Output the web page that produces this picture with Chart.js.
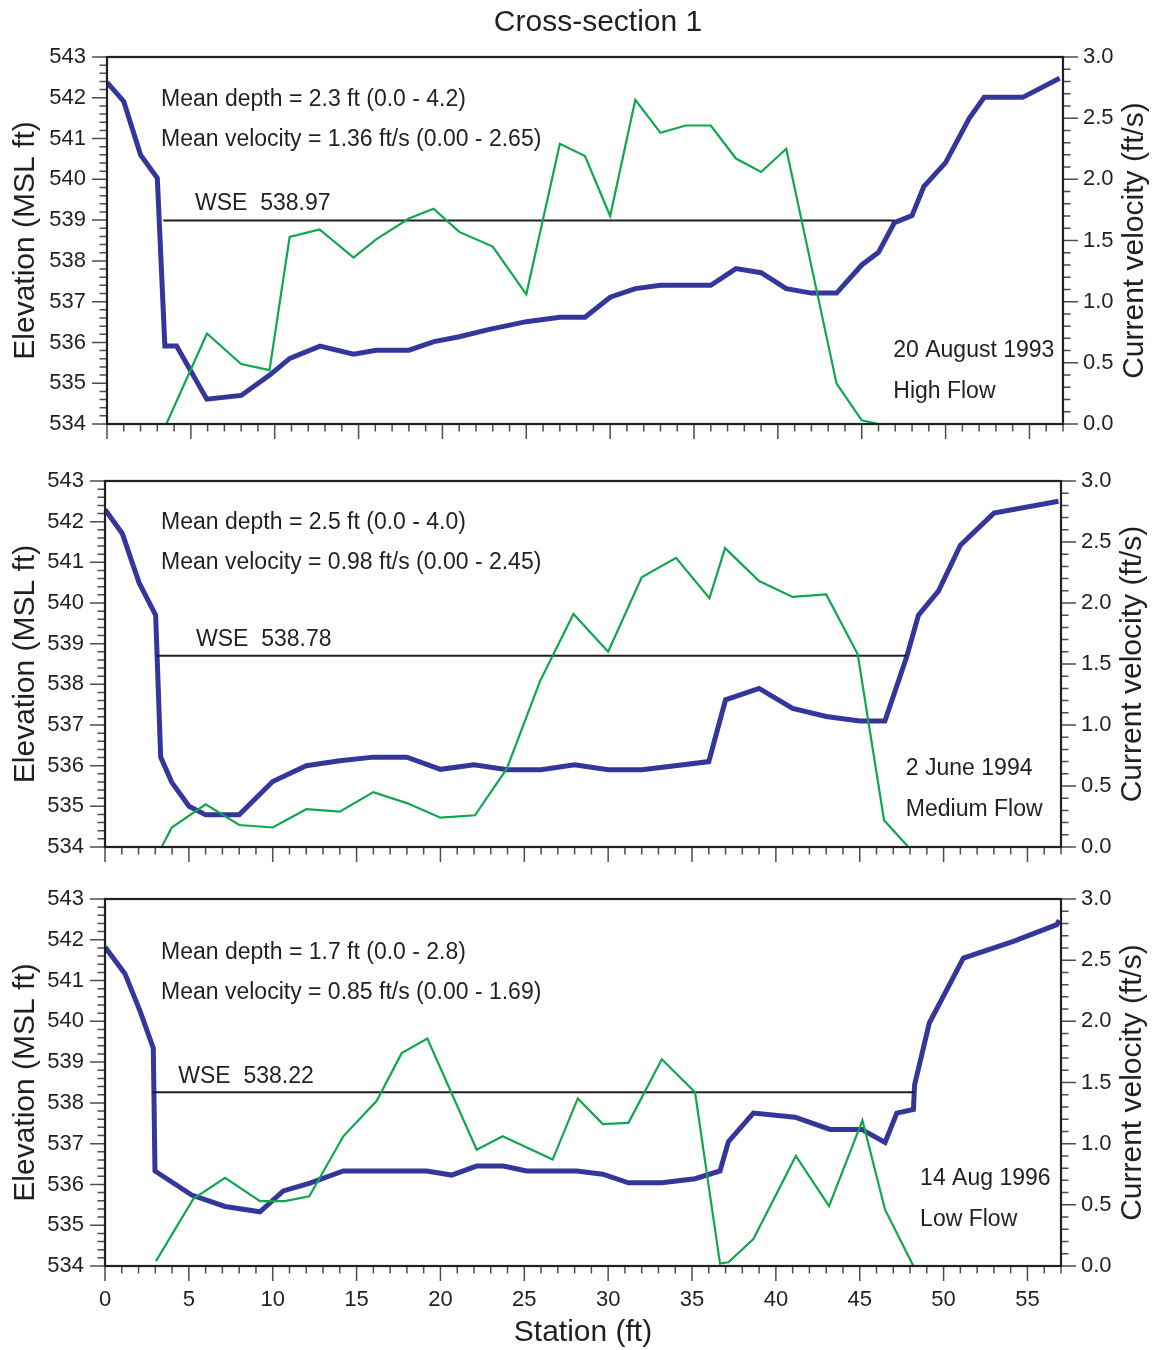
<!DOCTYPE html>
<html>
<head>
<meta charset="utf-8">
<script src="https://cdn.jsdelivr.net/npm/chart.js@4.4.1/dist/chart.umd.min.js"></script>
<style>
body { margin: 0; background: #fff; }
#wrap { position: relative; width: 1156px; height: 1350px; }
canvas { position: absolute; left: 0; }
</style>
</head>
<body>
<div id="wrap">
  <canvas id="c1" width="1156" height="445" style="top:0px"></canvas>
  <canvas id="c2" width="1156" height="423" style="top:445px"></canvas>
  <canvas id="c3" width="1156" height="482" style="top:868px"></canvas>
</div>
<script>
const FONT = '"Liberation Sans", Arial, Helvetica, sans-serif';
const INK = '#231f20';
const BLUE = '#34379a';
const GREEN = '#10a64f';

// tick labels
const stationTicks = [0, 5, 10, 15, 20, 25, 30, 35, 40, 45, 50, 55];
const elevTicks = [534, 535, 536, 537, 538, 539, 540, 541, 542, 543];
const velTicks = [0, 0.5, 1, 1.5, 2, 2.5, 3];

// panel 1 - 20 August 1993, high flow
const station1 = [0, 1, 2, 3, 3.45, 4.15, 5.95, 8, 9.7, 10.9, 12.7, 14.7, 16.05, 18, 19.5, 21, 22.8, 25, 27, 28.5,
  30, 31.5, 33, 36, 37.5, 39, 40.5, 42, 43.5, 45, 46, 46.95, 48, 48.7, 50, 51.4, 52.3, 54.6, 56.8];
const elev1 = [542.38, 541.91, 540.6, 540.03, 535.91, 535.91, 534.61, 534.7, 535.2, 535.61, 535.91, 535.71, 535.81, 535.81, 536.02, 536.14, 536.32, 536.51, 536.62, 536.62,
  537.11, 537.32, 537.4, 537.4, 537.81, 537.71, 537.32, 537.21, 537.21, 537.9, 538.21, 538.94, 539.11, 539.82, 540.41, 541.49, 542.01, 542.01, 542.48];
const velStation1 = [3.54, 5.96, 8, 9.69, 10.89, 12.67, 14.7, 16.05, 18, 19.47, 21, 23, 25, 27, 28.5, 30, 31.5, 33, 34.5, 36, 37.5, 39, 40.5, 43.5, 45, 46, 46.9];
const vel1 = [0, 0.74, 0.49, 0.44, 1.53, 1.59, 1.36, 1.51, 1.68, 1.76, 1.57, 1.45, 1.06, 2.29, 2.19, 1.70, 2.65, 2.38, 2.44, 2.44, 2.17, 2.06, 2.25, 0.33, 0.03, 0, 0];
const wse1 = 538.99;
const wseSpan1 = [3.35, 46.95];

// panel 2 - 2 June 1994, medium flow
const station2 = [0, 1.03, 2.03, 3.02, 3.32, 3.98, 5.01, 6, 8, 10, 12, 14, 16, 18, 20, 22, 24, 26, 28, 30, 32, 34, 36, 37,
  39, 41, 43, 45, 46.5, 47.8, 48.5, 49.7, 51, 53, 56.85];
const elev2 = [542.3, 541.71, 540.5, 539.7, 536.21, 535.59, 535.0, 534.79, 534.79, 535.61, 536.0, 536.12, 536.21, 536.21, 535.91, 536.02, 535.9, 535.9, 536.02, 535.9, 535.9, 536.0, 536.1, 537.62,
  537.9, 537.41, 537.21, 537.1, 537.1, 538.68, 539.7, 540.3, 541.42, 542.21, 542.5];
const velStation2 = [3.38, 3.98, 6, 8, 10, 12, 14, 16, 18, 20, 22.06, 23.95, 25.94, 27.93, 30, 32, 34.05, 36.04, 36.97, 39, 41, 43, 44.88, 46.45, 47.9];
const vel2 = [0, 0.16, 0.35, 0.18, 0.16, 0.31, 0.29, 0.45, 0.36, 0.24, 0.26, 0.64, 1.36, 1.91, 1.60, 2.21, 2.37, 2.04, 2.45, 2.18, 2.05, 2.07, 1.58, 0.22, 0];
const wse2 = 538.7;
const wseSpan2 = [3.08, 47.8];

// panel 3 - 14 Aug 1996, low flow
const station3 = [0, 1.19, 2.09, 2.88, 2.98, 5.17, 7.16, 9.24, 10.63, 12.22, 14.21, 19.18, 20.67, 22.16, 23.75, 25.14, 28.13, 29.68, 31.21, 33.2,
  35.18, 36.67, 37.17, 38.66, 41.14, 43.23, 45.12, 46.51, 47.21, 48.2, 48.27, 49.15, 51.18, 54.16, 56.75, 56.9];
const elev3 = [541.82, 541.17, 540.25, 539.34, 536.33, 535.74, 535.46, 535.33, 535.84, 536.03, 536.33, 536.33, 536.23, 536.45, 536.45, 536.33, 536.33, 536.25, 536.04, 536.04,
  536.14, 536.33, 537.05, 537.75, 537.65, 537.35, 537.35, 537.03, 537.75, 537.84, 538.44, 539.96, 541.55, 541.96, 542.37, 542.48];
const velStation3 = [3.04, 5.27, 7.16, 9.24, 10.73, 12.18, 14.21, 16.2, 17.69, 19.22, 22.16, 23.71, 26.69, 28.19, 29.68, 31.21, 33.2, 35.18, 36.67, 37.17,
  38.66, 41.19, 43.17, 45.16, 46.51, 48.2];
const vel3 = [0.04, 0.55, 0.72, 0.53, 0.53, 0.57, 1.06, 1.35, 1.74, 1.86, 0.95, 1.06, 0.87, 1.37, 1.16, 1.17, 1.69, 1.42, 0.02, 0.03,
  0.22, 0.90, 0.49, 1.19, 0.46, 0];
const wse3 = 538.26;
const wseSpan3 = [2.82, 48.27];

function pts(xs, ys) {
    return xs.map((x, i) => ({x: x, y: ys[i]}));
}

// ticks, frame, notes, right axis title (drawn through the chart's scales)
const framePlugin = {
    id: 'frame',
    afterDatasetsDraw(chart, args, o) {
        const ctx = chart.ctx;
        const {left, right, top, bottom} = chart.chartArea;
        const sx = chart.scales.x, sy = chart.scales.y, sv = chart.scales.v;
        ctx.save();
        ctx.strokeStyle = '#4d4d4d';
        ctx.lineWidth = 1.5;
        ctx.beginPath();
        let n = Math.round((sy.max - sy.min) / 0.2);
        for (let i = 0; i <= n; i++) {
            const py = sy.getPixelForValue(sy.min + i * 0.2);
            const len = i % 5 === 0 ? 15 : 7.5;
            ctx.moveTo(left - len, py); ctx.lineTo(left, py);
        }
        n = Math.round((sv.max - sv.min) / 0.1);
        for (let i = 0; i <= n; i++) {
            const py = sv.getPixelForValue(sv.min + i * 0.1);
            const len = i % 5 === 0 ? 15 : 7.5;
            ctx.moveTo(right, py); ctx.lineTo(right + len, py);
        }
        n = Math.round(sx.max - sx.min);
        for (let i = 0; i <= n; i++) {
            const px = sx.getPixelForValue(sx.min + i);
            const len = i % 5 === 0 ? 15 : 7.5;
            ctx.moveTo(px, bottom); ctx.lineTo(px, bottom + len);
        }
        ctx.stroke();

        ctx.strokeStyle = INK;
        ctx.lineWidth = 2.2;
        ctx.strokeRect(left, top, right - left, bottom - top);

        ctx.fillStyle = INK;
        ctx.font = '23px ' + FONT;
        ctx.textAlign = 'left';
        ctx.textBaseline = 'middle';
        o.notes.forEach((nt) => {
            ctx.fillText(nt.text, sx.getPixelForValue(nt.x), sy.getPixelForValue(nt.y) + 2);
        });

        ctx.font = '30px ' + FONT;
        ctx.textAlign = 'center';
        ctx.save();
        ctx.translate(right + 72, (top + bottom) / 2);
        ctx.rotate(-Math.PI / 2);
        ctx.fillText('Current velocity (ft/s)', 0, 0);
        ctx.restore();

        if (o.title) {
            ctx.textAlign = 'center';
            ctx.fillText(o.title, 598, 23);
        }
        ctx.restore();
    }
};

function makePanel(id, p) {
    const ctx = document.getElementById(id).getContext('2d');
    return new Chart(ctx, {
        type: 'line',
        data: {
            datasets: [
                {
                    data: pts(p.velStation, p.vel),
                    yAxisID: 'v',
                    borderColor: GREEN,
                    borderWidth: 2.2,
                    pointRadius: 0,
                    tension: 0,
                    fill: false,
                    order: 0
                },
                {
                    data: pts(p.wseSpan, [p.wse, p.wse]),
                    yAxisID: 'y',
                    borderColor: INK,
                    borderWidth: 2,
                    pointRadius: 0,
                    fill: false,
                    order: 1
                },
                {
                    data: pts(p.station, p.elev),
                    yAxisID: 'y',
                    borderColor: BLUE,
                    borderWidth: 5,
                    pointRadius: 0,
                    tension: 0,
                    fill: false,
                    order: 2
                }
            ]
        },
        options: {
            responsive: false,
            animation: false,
            layout: { padding: { top: p.padTop, left: 0, right: 0, bottom: 0 } },
            plugins: {
                legend: { display: false },
                tooltip: { enabled: false },
                frame: { notes: p.notes, title: p.title }
            },
            scales: {
                x: {
                    type: 'linear',
                    min: 0,
                    max: 57,
                    grid: { display: false, drawTicks: false },
                    border: { display: false },
                    afterBuildTicks: (s) => { s.ticks = stationTicks.map((v) => ({value: v})); },
                    afterFit: (s) => { s.height = p.xHeight; s.paddingLeft = 0; s.paddingRight = 0; },
                    ticks: {
                        display: p.showX,
                        padding: 21,
                        color: INK,
                        font: { size: 22, family: FONT }
                    },
                    title: {
                        display: p.showX,
                        text: 'Station (ft)',
                        color: INK,
                        font: { size: 30, family: FONT, lineHeight: 1 },
                        padding: { top: 0, bottom: 2 }
                    }
                },
                y: {
                    type: 'linear',
                    position: 'left',
                    min: 534,
                    max: 543,
                    grid: { display: false, drawTicks: false },
                    border: { display: false },
                    afterBuildTicks: (s) => { s.ticks = elevTicks.map((v) => ({value: v})); },
                    afterFit: (s) => { s.width = p.leftW; s.paddingTop = 0; s.paddingBottom = 0; },
                    ticks: {
                        padding: 21,
                        color: INK,
                        font: { size: 22, family: FONT }
                    },
                    title: {
                        display: true,
                        text: 'Elevation (MSL ft)',
                        color: INK,
                        font: { size: 30, family: FONT, lineHeight: 1 },
                        padding: { top: 11, bottom: 0 }
                    }
                },
                v: {
                    type: 'linear',
                    position: 'right',
                    min: 0,
                    max: 3,
                    grid: { display: false, drawTicks: false },
                    border: { display: false },
                    afterBuildTicks: (s) => { s.ticks = velTicks.map((v) => ({value: v})); },
                    afterFit: (s) => { s.width = 1156 - 956 - p.leftW; s.paddingTop = 0; s.paddingBottom = 0; },
                    ticks: {
                        padding: 20,
                        color: INK,
                        font: { size: 22, family: FONT },
                        callback: (v) => Number(v).toFixed(1)
                    }
                }
            }
        },
        plugins: [framePlugin]
    });
}

makePanel('c1', {
    station: station1, elev: elev1, velStation: velStation1, vel: vel1, wse: wse1, wseSpan: wseSpan1,
    leftW: 107, padTop: 57, xHeight: 21, showX: false, title: 'Cross-section 1',
    notes: [
        {x: 3.22, y: 542.0, text: 'Mean depth = 2.3 ft (0.0 - 4.2)'},
        {x: 3.22, y: 541.03, text: 'Mean velocity = 1.36 ft/s (0.00 - 2.65)'},
        {x: 5.25, y: 539.45, text: 'WSE  538.97'},
        {x: 46.88, y: 535.84, text: '20 August 1993'},
        {x: 46.88, y: 534.83, text: 'High Flow'}
    ]
});

makePanel('c2', {
    station: station2, elev: elev2, velStation: velStation2, vel: vel2, wse: wse2, wseSpan: wseSpan2,
    leftW: 105, padTop: 36, xHeight: 21, showX: false, title: null,
    notes: [
        {x: 3.34, y: 542.02, text: 'Mean depth = 2.5 ft (0.0 - 4.0)'},
        {x: 3.34, y: 541.04, text: 'Mean velocity = 0.98 ft/s (0.00 - 2.45)'},
        {x: 5.43, y: 539.15, text: 'WSE  538.78'},
        {x: 47.75, y: 535.97, text: '2 June 1994'},
        {x: 47.75, y: 534.96, text: 'Medium Flow'}
    ]
});

makePanel('c3', {
    station: station3, elev: elev3, velStation: velStation3, vel: vel3, wse: wse3, wseSpan: wseSpan3,
    leftW: 105, padTop: 31, xHeight: 84, showX: true, title: null,
    notes: [
        {x: 3.34, y: 541.73, text: 'Mean depth = 1.7 ft (0.0 - 2.8)'},
        {x: 3.34, y: 540.75, text: 'Mean velocity = 0.85 ft/s (0.00 - 1.69)'},
        {x: 4.37, y: 538.69, text: 'WSE  538.22'},
        {x: 48.6, y: 536.18, text: '14 Aug 1996'},
        {x: 48.6, y: 535.18, text: 'Low Flow'}
    ]
});
</script>
</body>
</html>
